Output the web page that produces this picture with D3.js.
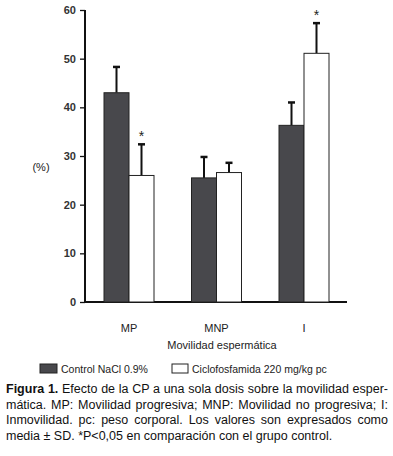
<!DOCTYPE html>
<html><head><meta charset="utf-8">
<script src="https://cdn.jsdelivr.net/npm/d3@7"></script>
<style>
body{margin:0;background:#fff;}
svg{display:block;}
</style></head>
<body>
<svg id="c" width="393" height="456"></svg>
<script>
const categories = ["MP","MNP","I"];
const seriesNames = ["Control NaCl 0.9%","Ciclofosfamida 220 mg/kg pc"];
const controlMean = [43.0, 25.5, 36.3];
const controlSD = [5.3, 4.3, 4.7];
const cpMean = [26.0, 26.6, 51.1];
const cpSD = [6.4, 2.0, 6.2];
const significant = [true, false, true];
const yTicks = [0,10,20,30,40,50,60];

const svg = d3.select("#c");
const x0 = 85, x1 = 347, yTop = 10, yBot = 302;
const y = d3.scaleLinear().domain([0,60]).range([yBot, yTop]);
const xCenter = d3.scalePoint().domain(categories).range([129, 304]);
const xSub = d3.scaleBand().domain([0,1]).range([-25, 25]);

// y axis
const yAxis = d3.axisLeft(y).tickValues(yTicks).tickSize(5).tickPadding(4);
const gy = svg.append("g").attr("transform",`translate(${x0},0)`).call(yAxis);
gy.select(".domain").attr("stroke","#111").attr("stroke-width",2).attr("d",`M0,${yTop}V${yBot+1}`);
gy.selectAll(".tick line").attr("stroke","#111").attr("stroke-width",1.3);
gy.selectAll(".tick text").attr("font-family","Liberation Sans, Arial, sans-serif").attr("font-size",11).attr("fill","#333").attr("font-weight","bold");

// x axis line
svg.append("line").attr("x1",x0).attr("x2",x1).attr("y1",yBot).attr("y2",yBot).attr("stroke","#111").attr("stroke-width",2);

const colors = ["#48484c","#ffffff"];
const data = categories.map((c,i)=>[
  {cat:c, k:0, m:controlMean[i], sd:controlSD[i], sig:false},
  {cat:c, k:1, m:cpMean[i], sd:cpSD[i], sig:significant[i]}
]).flat();

const bars = svg.append("g");
data.forEach(d=>{
  const bx = xCenter(d.cat)+xSub(d.k);
  const bw = xSub.bandwidth();
  const cx = bx + bw/2;
  bars.append("line").attr("x1",cx).attr("x2",cx).attr("y1",y(d.m)).attr("y2",y(d.m+d.sd)).attr("stroke","#111").attr("stroke-width",2);
  bars.append("line").attr("x1",cx-3.5).attr("x2",cx+3.5).attr("y1",y(d.m+d.sd)).attr("y2",y(d.m+d.sd)).attr("stroke","#111").attr("stroke-width",2.5);
  bars.append("rect").attr("x",bx).attr("y",y(d.m)).attr("width",bw).attr("height",yBot-y(d.m))
    .attr("fill",colors[d.k]).attr("stroke","#222").attr("stroke-width",1);
  if(d.sig){
    bars.append("text").attr("x",cx).attr("y",y(d.m+d.sd)-3).attr("text-anchor","middle")
      .attr("font-family","Liberation Sans, Arial, sans-serif").attr("font-size",14).attr("fill","#222").text("*");
  }
});

// x labels
const lab = svg.append("g").attr("font-family","Liberation Sans, Arial, sans-serif").attr("font-size",11).attr("fill","#222");
categories.forEach(c=>{
  lab.append("text").attr("x",xCenter(c)).attr("y",332).attr("text-anchor","middle").text(c);
});
lab.append("text").attr("x",222).attr("y",349).attr("text-anchor","middle").text("Movilidad espermática");
lab.append("text").attr("x",41).attr("y",171).attr("text-anchor","middle").text("(%)");

// legend
const leg = svg.append("g").attr("font-family","Liberation Sans, Arial, sans-serif").attr("font-size",10.5).attr("fill","#222");
leg.append("rect").attr("x",40).attr("y",364).attr("width",17).attr("height",9).attr("fill",colors[0]).attr("stroke","#222");
leg.append("text").attr("x",61).attr("y",373).text(seriesNames[0]);
leg.append("rect").attr("x",172).attr("y",364).attr("width",16).attr("height",9).attr("fill",colors[1]).attr("stroke","#222");
leg.append("text").attr("x",192).attr("y",373).text(seriesNames[1]);

// caption (justified)
const capLines = [
  [{t:"Figura 1.",b:true},{t:" Efecto de la CP a una sola dosis sobre la movilidad esper-"}],
  [{t:"mática. MP: Movilidad progresiva; MNP: Movilidad no progresiva; I:"}],
  [{t:"Inmovilidad. pc: peso corporal. Los valores son expresados como"}],
  [{t:"media ± SD. *P<0,05 en comparación con el grupo control."}]
];
const cap = svg.append("g").attr("font-family","Liberation Sans, Arial, sans-serif").attr("font-size",12.5).attr("fill","#111");
const L = 6, R = 388;
capLines.forEach((line,i)=>{
  const t = cap.append("text").attr("x",L).attr("y",393+i*15.5);
  line.forEach(seg=>{
    t.append("tspan").attr("font-weight",seg.b?"bold":"normal").text(seg.t);
  });
  if(i<3){
    const w = t.node().getComputedTextLength();
    const full = line.map(s=>s.t).join("");
    const spaces = (full.match(/ /g)||[]).length;
    if(spaces>0) t.attr("word-spacing",(R-L-w)/spaces);
  }
});
</script>
</body></html>
